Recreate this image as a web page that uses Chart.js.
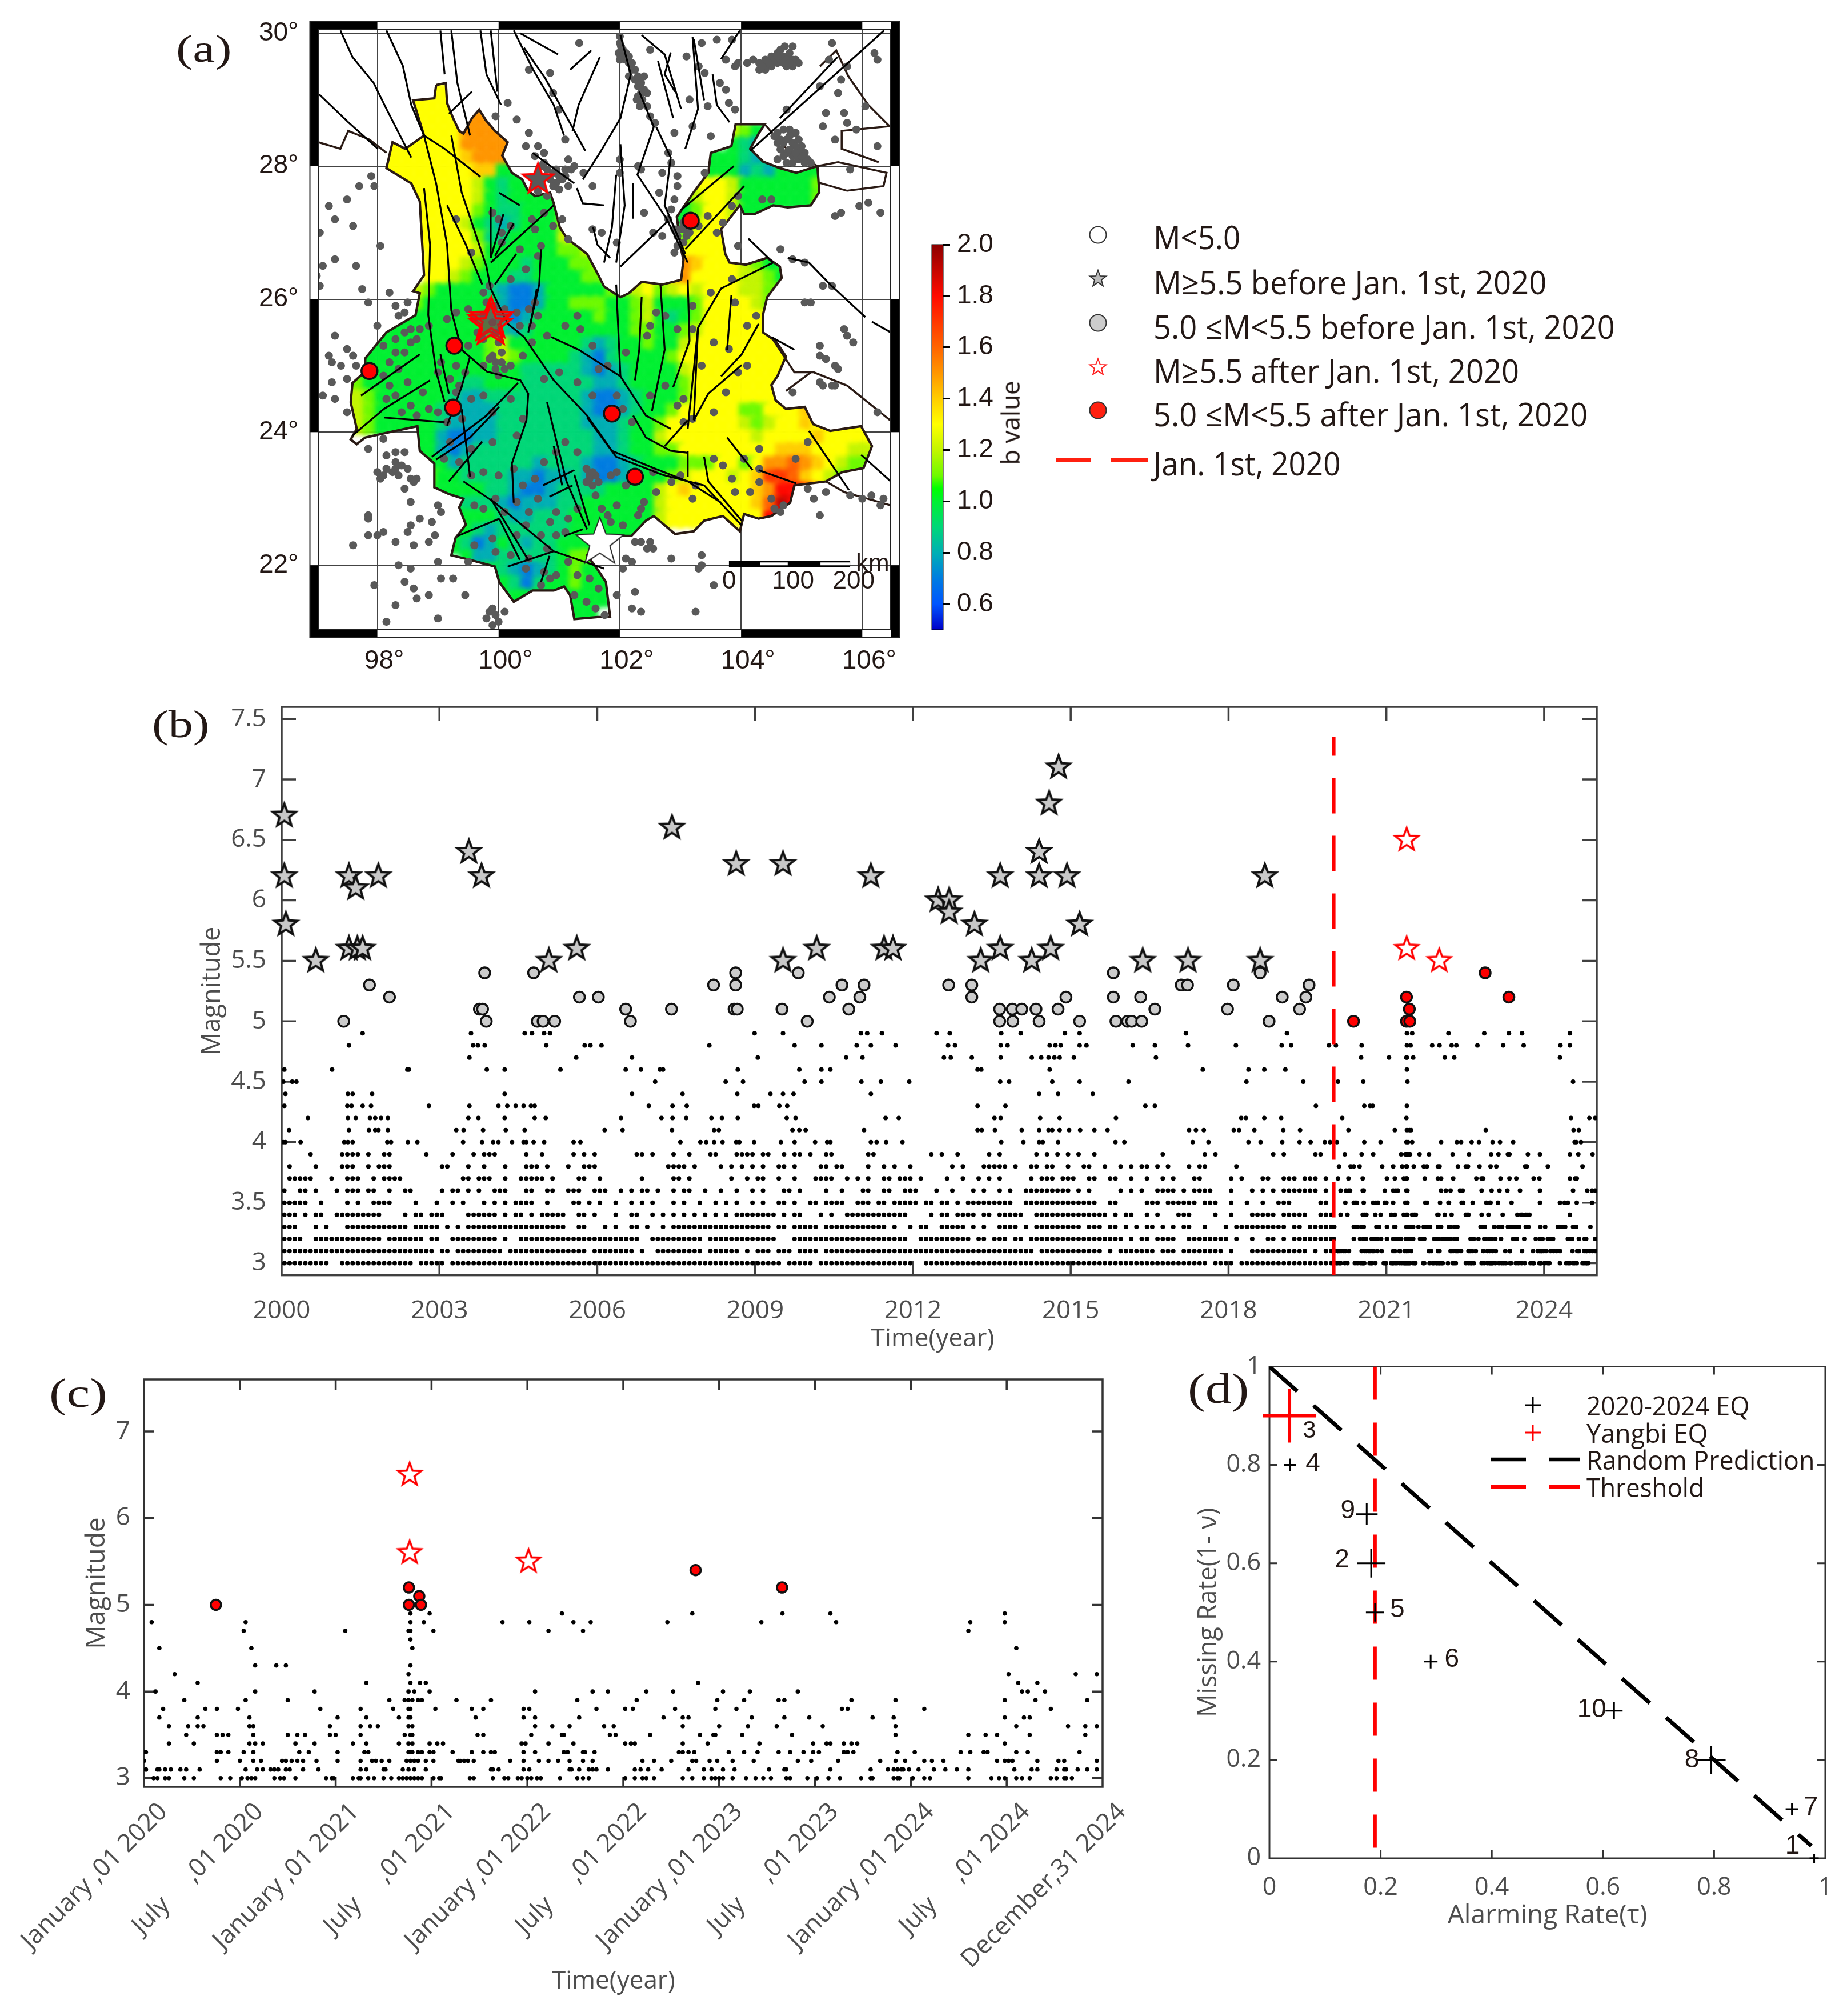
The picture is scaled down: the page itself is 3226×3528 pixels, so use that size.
<!DOCTYPE html>
<html>
<head>
<meta charset="utf-8">
<title>b value map and seismicity</title>
<script src="https://cdn.jsdelivr.net/npm/chart.js@4"></script>
<style>
  html, body { margin: 0; padding: 0; background: #fff; }
  #page { position: relative; width: 3226px; height: 3528px; overflow: hidden; }
  canvas { position: absolute; }
  .txt { position: absolute; white-space: pre; line-height: 1; transform-origin: left center; }
</style>
</head>
<body>
<div id="page"></div>
<script>
'use strict';

/* ---------- panel (b) and (c): catalogue ---------- */

// M 3.0 - 3.9 before 2020: one char per 0.1 yr, 2000.0 -> 2019.9
const bins30 = '#########. .######### #####.#### #.######## ########## ########## ########## ########## ########## #####.#### #.######## ########## ..######## ########## ########## ########## ########## ######.### #.######## ##########';
const bins31 = '########## ########## #########. ##.####### ##.####### ########.# #######.#. .######### .######.#. ###.###.## ##.####### ########## ########## ########## ###.###### ######.#.# ######.### .########. #...###### #####.#.##';
const bins32 = '####..#### #########. #######.## ..######## #.#..##### ########## ########.. ########## .######### ####...### ########## #########. .######### #.##.###.# #.######## ########## .#.##.#### ..######## .#..#..##. #.########';
const bins33 = '###...#.#. ..######## ####.##### .#.#.##### ########## ####..##.. .#.#..##.# ..#.###### ########## ###.##.### ##.####### #####.#..# .##..##### .#.#..#### .#.####### ##.###.##. #.#.##.#.# .##..#...# .######### #.##.#####';
const bins34 = '###.#.##.. #########. ...#.##.## #....##### #.#.##.#.# ####..##.# ...#..##.. #.#.#.#.#. #.#.#.#### ####.#.##. ..#.#..### #########. ...#.##.## ##.##.#### #..####### #######.#. ##..#.#... ###....#.. #...#####. #####..###';
const bins35 = '#####..#.. ..#.#..### #....#...# ..#.#...#. #.#.####.. #....##.#. #..#..#.#. #...#.#..# ..#.#.#..# .#..##.#.. ##.####..# ##.##.#### #.##.##.#. #########. .######### #####..##. ....###.## ####.###.. #..#..#..# ##.....##.';
const bins36 = '#..##.#... #.###.##.. #..##..... #.##.#.#.. ###...##.. ##..###..# ##..#.#.## .#..#.##.. #..#..#..# .#...##.#. ...#..#... ##..##..## #...#..#.. .#.#..#.#. .######### .#.#.....# .#.#..#### .#.####... #...#.#.#. #######.#.';
const bins37 = '.#####...# ..###..#.# ###....... ....##.### ..#..##### .#....##.. #.......#. ....##.#.. .....#..#. ##..#..#.. .####..#.# .#..##.### .#....#..# ..#.#.#... ..#.###.## #..##..##. .#..#..#.# ...##..... #.#...##.. ###.###.#.';
const bins38 = '.#....#... .###..#.## #......... ##...#..#. ..#...###. #...#..### .......... ...####.#. ...#.#.#.# .#..##.#.. ..##.##... .#..#.#..# .......#.# ...#####.# ..##.##..# ..##..#..# .#.##.#.#. ..#.##.... .#........ ..........';
const bins39 = '.....#.... .####.#..# #......#.. ..#...#.## #.....#..# .....#.#.# .......##. #...#..#.. .##...#### .##..#.##. #..##..... .##....... ...#.#..#. ....#.#... ...#.#.#.# .#..#..... .......#.. .....#.#.. ........#. #.....##..';

// M 4.0 - 4.9 before 2020, decimal years
const past40 = [2000.03,2000.07,2000.36,2001.19,2001.26,2001.35,2002.01,2002.08,2002.4,2002.58,2003.45,2003.81,2004.02,2004.12,2004.38,2004.6,2004.65,2004.79,2004.99,2005.55,2005.68,2007.58,2007.96,2008.07,2008.22,2008.38,2008.64,2008.7,2008.98,2009.49,2009.75,2010.14,2010.37,2010.43,2011.2,2011.31,2011.49,2011.8,2013.68,2014.1,2014.4,2014.47,2014.76,2015.85,2016.02,2017.32,2017.62,2018.38,2018.61,2019.02,2019.35,2019.56,2019.83,2019.93];
const past41 = [2000.14,2001.28,2001.66,2001.78,2001.84,2002.02,2003.32,2003.46,2003.83,2004.26,2004.62,2006.14,2006.48,2007.42,2008.22,2008.31,2009.71,2009.84,2009.96,2011.07,2013.23,2013.31,2013.56,2014.07,2014.4,2014.58,2014.65,2014.79,2014.97,2015.18,2015.45,2015.7,2017.25,2017.38,2017.53,2018.1,2018.2,2018.49,2019.04,2019.36];
const past42 = [2000.5,2001.26,2001.41,2001.68,2001.78,2001.89,2002.02,2003.55,2003.74,2004.24,2004.81,2005.02,2006.45,2007.22,2007.43,2007.69,2008.17,2008.37,2008.67,2009.6,2009.77,2011.48,2011.73,2013.55,2013.67,2014.42,2014.79,2015.86,2018.24,2018.33,2018.68,2019.0];
const past43 = [2000.05,2001.25,2001.33,2001.54,2001.7,2002.8,2003.57,2004.12,2004.29,2004.45,2004.6,2004.74,2004.81,2006.98,2007.43,2007.7,2008.98,2009.06,2009.46,2009.61,2013.23,2013.76,2016.42,2016.6,2019.66];
const past44 = [2000.07,2001.26,2001.35,2001.72,2004.24,2006.66,2007.62,2008.66,2009.29,2009.53,2009.73,2011.2,2014.4,2014.76,2015.42];
const past45 = [2000.03,2000.2,2000.28,2007.1,2008.44,2008.77,2009.94,2010.26,2011.02,2011.39,2011.93,2013.66,2013.83,2014.65,2015.17,2016.1,2018.34,2019.42];
const past46 = [2000.05,2000.96,2002.39,2002.42,2003.9,2004.24,2005.3,2006.54,2006.83,2007.19,2007.25,2008.67,2009.84,2010.26,2010.43,2013.23,2013.3,2014.6,2017.51,2018.38,2018.68,2019.08];
const past47 = [2003.57,2005.6,2006.66,2009.05,2010.73,2011.04,2012.59,2012.72,2013.12,2013.67,2014.26,2014.44,2014.58,2014.69,2014.79,2015.06,2016.62];
const past48 = [2001.28,2003.64,2003.73,2003.86,2005.03,2005.76,2005.87,2006.08,2008.13,2009.75,2010.26,2010.93,2011.2,2011.67,2012.67,2012.8,2013.67,2013.8,2014.6,2014.71,2014.81,2015.17,2015.3,2016.18,2016.6,2017.23,2018.14,2019.01,2019.19,2019.91];
const past49 = [2001.54,2003.6,2004.62,2004.76,2004.99,2005.1,2008.99,2009.53,2011.01,2011.13,2011.41,2012.45,2012.7,2013.68,2014.05,2014.89,2015.17,2017.19,2019.11];

// M 3.0 - 4.9 from 2020 on, used by both (b) and (c)
const recent30 = [2020.05,2020.07,2020.11,2020.13,2020.21,2020.26,2020.4,2020.45,2020.51,2020.54,2020.56,2020.58,2020.68,2020.71,2020.73,2020.79,2020.95,2020.98,2020.99,2021.09,2021.12,2021.13,2021.17,2021.2,2021.25,2021.29,2021.33,2021.35,2021.37,2021.39,2021.41,2021.43,2021.45,2021.51,2021.54,2021.55,2021.7,2021.72,2021.82,2021.88,2021.9,2021.95,2021.97,2022.0,2022.02,2022.05,2022.07,2022.17,2022.26,2022.29,2022.32,2022.51,2022.56,2022.6,2022.62,2022.66,2022.81,2022.86,2022.92,2022.96,2022.98,2023.0,2023.02,2023.07,2023.14,2023.19,2023.23,2023.27,2023.35,2023.37,2023.46,2023.51,2023.57,2023.63,2023.74,2023.79,2023.8,2023.91,2023.93,2023.94,2024.01,2024.07,2024.1,2024.3,2024.42,2024.46,2024.49,2024.55,2024.58,2024.62,2024.73,2024.76,2024.8,2024.81,2024.84];
const recent31 = [2020.01,2020.01,2020.07,2020.08,2020.11,2020.14,2020.19,2020.22,2020.29,2020.53,2020.59,2020.62,2020.66,2020.68,2020.7,2020.74,2020.76,2020.83,2020.91,2021.13,2021.16,2021.25,2021.26,2021.35,2021.38,2021.41,2021.47,2021.81,2021.82,2021.85,2021.98,2022.01,2022.22,2022.23,2022.27,2022.32,2022.34,2022.36,2022.42,2022.56,2022.59,2022.63,2022.7,2022.84,2022.92,2022.96,2023.02,2023.08,2023.26,2023.34,2023.35,2023.58,2023.79,2023.88,2023.91,2023.93,2023.95,2023.96,2023.99,2024.04,2024.12,2024.18,2024.24,2024.3,2024.54,2024.63,2024.66,2024.76,2024.8,2024.81,2024.87,2024.92,2024.97];
const recent32 = [2020.0,2020.38,2020.5,2020.57,2020.61,2020.72,2020.74,2020.77,2020.8,2020.83,2020.9,2021.01,2021.13,2021.19,2021.21,2021.24,2021.28,2021.37,2021.39,2021.41,2021.43,2021.47,2021.51,2021.64,2021.65,2021.67,2021.69,2021.72,2021.91,2021.98,2022.06,2022.11,2022.16,2022.22,2022.29,2022.34,2022.6,2022.66,2022.75,2022.86,2022.88,2022.95,2022.99,2023.07,2023.18,2023.41,2023.48,2023.62,2023.84,2023.92,2023.97,2024.07,2024.11,2024.17,2024.45,2024.49,2024.51,2024.53,2024.66,2024.77,2024.8,2024.97];
const recent33 = [2020.0,2020.01,2020.38,2020.4,2020.44,2020.52,2020.57,2020.81,2020.86,2021.01,2021.15,2021.17,2021.38,2021.39,2021.4,2021.43,2021.45,2021.49,2021.51,2021.61,2021.71,2021.77,2021.81,2021.83,2021.98,2022.04,2022.19,2022.21,2022.29,2022.3,2022.35,2022.79,2022.81,2022.84,2022.87,2023.05,2023.13,2023.2,2023.31,2023.37,2023.44,2023.49,2023.52,2023.65,2023.67,2023.7,2023.93,2024.02,2024.26,2024.31,2024.38,2024.4,2024.55,2024.61,2024.88];
const recent34 = [2020.13,2020.26,2020.55,2020.58,2020.62,2020.79,2020.89,2021.09,2021.16,2021.33,2021.38,2021.4,2021.49,2021.53,2021.56,2021.97,2021.99,2022.11,2022.24,2022.51,2022.54,2022.56,2022.81,2022.94,2023.21,2023.49,2023.56,2023.58,2023.65,2023.69,2023.72,2024.49];
const recent35 = [2020.22,2020.38,2020.41,2020.44,2020.57,2020.75,2020.8,2020.84,2020.97,2021.0,2021.13,2021.36,2021.39,2021.4,2021.74,2021.77,2022.02,2022.18,2022.19,2022.43,2022.46,2022.64,2022.9,2022.97,2022.98,2023.12,2023.38,2023.92,2024.3,2024.39,2024.45,2024.62,2024.91];
const recent36 = [2020.13,2020.23,2020.28,2020.31,2020.55,2020.57,2020.97,2021.13,2021.18,2021.22,2021.38,2021.4,2022.04,2022.13,2022.22,2022.4,2022.45,2022.81,2023.0,2023.15,2023.3,2023.54,2023.92,2024.55,2024.82,2024.91,2024.97];
const recent37 = [2020.08,2020.28,2020.55,2021.01,2021.16,2021.33,2021.38,2021.39,2021.73,2021.98,2022.04,2022.27,2022.71,2022.81,2022.84,2023.17,2023.34,2023.47,2023.8,2023.91,2024.49,2024.59,2024.62];
const recent38 = [2020.1,2020.32,2020.38,2020.49,2020.92,2021.13,2021.3,2021.38,2021.39,2021.52,2021.71,2021.77,2021.98,2022.01,2022.36,2022.51,2022.55,2022.77,2022.98,2023.09,2023.64,2023.67,2024.07,2024.73];
const recent39 = [2020.21,2020.53,2020.75,2021.28,2021.36,2021.38,2021.4,2021.43,2021.45,2021.63,2021.81,2022.26,2022.57,2022.99,2023.13,2023.31,2023.34,2023.69,2023.92,2024.49,2024.65,2024.92];
const recent40 = [2020.06,2020.58,2020.89,2021.38,2021.41,2021.49,2022.04,2022.34,2022.42,2022.62,2022.76,2023.02,2023.16,2023.41,2024.58,2024.61,2024.7];
const recent41 = [2020.28,2021.16,2021.39,2021.44,2021.47,2022.89,2024.56,2024.66];
const recent42 = [2020.16,2021.38,2024.51,2024.86,2024.97];
const recent43 = [2020.58,2020.69,2020.74,2021.39];
const recent44 = [];
const recent45 = [2020.08,2020.56,2021.4,2024.55];
const recent46 = [2021.39];
const recent47 = [2020.52,2021.05,2021.38,2021.39,2021.51,2022.11,2022.29,2024.3];
const recent48 = [2020.04,2020.53,2021.39,2021.46,2021.87,2022.01,2022.24,2022.33,2022.73,2023.22,2023.61,2024.31,2024.49];
const recent49 = [2021.39,2021.49,2022.18,2022.86,2023.33,2023.58,2024.49];

// M >= 5: years and magnitudes
const grayStarYears = [2000.05,2000.05,2000.08,2000.65,2001.28,2001.28,2001.41,2001.44,2001.54,2001.84,2003.56,2003.8,2005.08,2005.61,2007.42,2008.64,2009.53,2009.53,2010.17,2011.2,2011.45,2011.62,2012.48,2012.69,2012.69,2013.17,2013.29,2013.66,2013.66,2014.26,2014.4,2014.4,2014.62,2014.59,2014.77,2014.93,2015.17,2016.37,2017.23,2018.6,2018.69];
const grayStarMags  = [6.7,6.2,5.8,5.5,6.2,5.6,6.1,5.6,5.6,6.2,6.4,6.2,5.5,5.6,6.6,6.3,6.3,5.5,5.6,6.2,5.6,5.6,6.0,6.0,5.9,5.8,5.5,5.6,6.2,5.5,6.4,6.2,5.6,6.8,7.1,6.2,5.8,5.5,5.5,5.5,6.2];
const grayCircleYears = [2001.18,2001.67,2002.05,2003.86,2003.76,2003.82,2003.89,2004.79,2004.86,2004.97,2005.19,2005.66,2006.02,2006.54,2006.63,2007.41,2008.21,2008.63,2008.63,2008.6,2008.66,2009.51,2009.82,2009.99,2010.41,2010.65,2010.78,2010.99,2011.07,2012.68,2013.12,2013.12,2013.65,2013.65,2013.89,2013.9,2014.07,2014.34,2014.4,2014.76,2014.91,2015.17,2015.81,2015.81,2015.86,2016.08,2016.16,2016.35,2016.33,2016.6,2017.1,2017.22,2017.98,2018.09,2018.6,2018.77,2019.02,2019.35,2019.47,2019.53];
const grayCircleMags  = [5.0,5.3,5.2,5.4,5.1,5.1,5.0,5.4,5.0,5.0,5.0,5.2,5.2,5.1,5.0,5.1,5.3,5.4,5.3,5.1,5.1,5.1,5.4,5.0,5.2,5.3,5.1,5.2,5.3,5.3,5.3,5.2,5.1,5.0,5.1,5.0,5.1,5.1,5.0,5.1,5.2,5.0,5.4,5.2,5.0,5.0,5.0,5.0,5.2,5.1,5.3,5.3,5.1,5.3,5.4,5.0,5.2,5.1,5.2,5.3];
const redCircleYears = [2020.375,2021.382,2021.382,2021.436,2021.445,2022.877,2023.328];
const redCircleMags  = [5.0,5.2,5.0,5.1,5.0,5.4,5.2];
const redStarYears = [2021.386,2021.386,2022.006];
const redStarMags  = [6.5,5.6,5.5];

const bYearTicks = [2000,2003,2006,2009,2012,2015,2018,2021,2024];
const bMagTicks  = [3,3.5,4,4.5,5,5.5,6,6.5,7,7.5];
const cYearTicks = [2020,2020.5,2021,2021.5,2022,2022.5,2023,2023.5,2024,2024.5,2025];
const cYearLabels = ['January ,01 2020','July     ,01 2020','January ,01 2021','July     ,01 2021','January ,01 2022','July     ,01 2022','January ,01 2023','July     ,01 2023','January ,01 2024','July     ,01 2024','December,31 2024'];
const cMagTicks  = [3,4,5,6,7];

/* ---------- panel (d) ---------- */
const rocNames = ['1','2','3','4','5','6','7','8','9','10'];
const rocAlarm = [0.98,0.183,0.036,0.037,0.19,0.29,0.94,0.795,0.175,0.62];
const rocMiss  = [0,0.6,0.9,0.8,0.5,0.4,0.1,0.2,0.7,0.3];
const rocTicks = [0,0.2,0.4,0.6,0.8,1];

/* ---------- panel (a): map ---------- */
const lonTicks = [98,100,102,104,106];
const latTicks = [22,24,26,28,30];
const barTicks = [0.6,0.8,1.0,1.2,1.4,1.6,1.8,2.0];

const heatLons = [97.5,97.7,97.9,98.1,98.3,98.5,98.7,98.9,99.1,99.3,99.5,99.7,99.9,100.1,100.3,100.5,100.7,100.9,101.1,101.3,101.5,101.7,101.9,102.1,102.3,102.5,102.7,102.9,103.1,103.3,103.5,103.7,103.9,104.1,104.3,104.5,104.7,104.9,105.1,105.3,105.5,105.7,105.9,106.1];
const heatLats = [29.1,28.9,28.7,28.5,28.3,28.1,27.9,27.7,27.5,27.3,27.1,26.9,26.7,26.5,26.3,26.1,25.9,25.7,25.5,25.3,25.1,24.9,24.7,24.5,24.3,24.1,23.9,23.7,23.5,23.3,23.1,22.9,22.7,22.5,22.3,22.1,21.9,21.7,21.5,21.3];
// b value x 10 in base 36 (a = 1.0, d = 1.3, i = 1.8), one string per latitude
const heatRows = [
  '.......dd...................................',
  '......ddd...................................',
  '......ddddff................................',
  '......ddddfff...................cba.........',
  '...dddddddffff..................a98.........',
  '...dddddddefff................aaa989aaaaadd.',
  '...ddddddddeeaaaaa............aaa898aaaacdd.',
  '....dddddddca9aaaa..........cdddcaaaaaabcdd.',
  '.....ddddddca9aaaaa........aacddcaaaaaab....',
  '......dddddba99aaab........aabddcaaa........',
  '......ddddca989aaac.........acddc...........',
  '......dddddb99aaaacd........bddd............',
  '.......ddddcaaaaaabbc.......dddddcbaa.......',
  '.......dddcbaaa9aaabbc.....efedddcbaa.......',
  '.......ddcbaaa99aaaabbc.dddefddddccba.......',
  '....aacbaaaa98778aaaaabbcdbcdcdddccbb.......',
  '....aabaaaaaa8778aabbbaabcaaabddddcb........',
  '...aaaaaaaaa9878aaaaabaabca9abdddddd........',
  '..aaaaaaaaaaa989aaaaaaaabbaabcddddddd.......',
  '.aaaaaaaaaaabcaaaaaa989aabaacdddddddd.......',
  '.aaaaaaaaaaabcbaaaa9879aaaabddddddddddd.....',
  'aaaaaaaaaaaaaaa999998789aaaacdddddddd.......',
  'bbaaaaaaaa99aaa999999889aaaabddddddd........',
  'ccbaaaaaa9889999999987789aaabddddddd........',
  'ccbaaaaa98888999999987789aabdddddbbdddedc...',
  '.cbaaaaa9888899999998889aabddddddcbcddedddd.',
  '.....aaa8778899999999889aacdddddddcddddedddd',
  '......aa8789999999999889aabbddddddddeeedddcc',
  '.......aa8999999899987789aaabbbddbdffgfedcbb',
  '.......baa999988788987789aabcdddcdehhgedcbbb',
  '........aaaa9987789999aaaacdedddddefiihebbbb',
  '.........a9998788899aaaaaacdddddddegjie.....',
  '.........aaaa988999aaaaaaacddddddddi........',
  '.........aa98999999aaaaaa...................',
  '.........a978a9899aaaa......................',
  '..........a8899999abba......................',
  '...........aa98789abaa......................',
  '.............a979aabaa......................',
  '..............aaa.aaaa......................',
  '..................aaa.......................'
];

// Yunnan border, lon/lat pairs
const yunnanBorder = [98.97,29.22,99.13,29.25,99.15,28.95,99.25,28.72,99.35,28.53,99.42,28.49,99.56,28.72,99.68,28.85,99.79,28.69,99.94,28.53,100.15,28.36,100.06,28.16,100.22,27.9,100.39,27.8,100.48,27.64,100.6,27.55,100.85,27.6,100.91,27.44,101.01,27.08,101.13,26.91,101.32,26.78,101.46,26.68,101.63,26.39,101.74,26.19,102.01,26.03,102.15,26.09,102.36,26.26,102.7,26.22,103.01,26.29,103.05,26.59,103.01,26.75,102.94,27.24,103.22,27.61,103.46,27.9,103.5,28.2,103.84,28.3,103.91,28.63,104.39,28.63,104.29,28.49,104.15,28.26,104.36,28.07,104.64,27.97,104.91,27.9,105.26,28.0,105.29,27.61,105.15,27.41,104.77,27.38,104.53,27.41,104.22,27.28,104.05,27.28,103.98,27.41,103.67,27.05,103.74,26.68,103.81,26.55,104.08,26.52,104.43,26.62,104.64,26.49,104.67,26.32,104.43,26.03,104.36,25.76,104.36,25.5,104.57,25.37,104.74,25.14,104.6,24.84,104.5,24.71,104.57,24.48,104.74,24.35,105.05,24.38,105.19,24.12,105.47,24.02,105.98,24.09,106.16,23.79,106.02,23.46,105.67,23.4,105.4,23.26,104.88,23.2,104.81,22.94,104.5,22.74,104.29,22.7,104.05,22.77,103.98,22.51,103.7,22.74,103.39,22.67,103.22,22.51,102.91,22.47,102.56,22.74,102.43,22.67,102.19,22.44,101.94,22.44,101.67,22.34,101.46,22.15,101.6,21.98,101.77,21.75,101.84,21.22,101.63,21.22,101.25,21.19,101.18,21.55,101.08,21.68,100.91,21.62,100.56,21.62,100.25,21.45,100.01,21.75,99.94,21.98,99.53,22.08,99.22,22.15,99.29,22.41,99.46,22.61,99.35,22.87,99.42,23.0,99.18,23.07,98.94,23.17,98.94,23.53,98.7,23.72,98.66,24.09,98.15,23.99,97.8,23.92,97.66,23.82,97.56,23.89,97.66,24.05,97.56,24.45,97.59,24.74,97.8,24.91,97.8,25.11,98.15,25.5,98.63,25.76,98.7,26.09,98.59,26.12,98.77,26.36,98.7,27.47,98.56,27.74,98.15,27.97,98.25,28.36,98.46,28.26,98.77,28.46,98.59,28.99,98.94,29.02,98.97,29.22];
const outerBorders = [
  [96.95,28.38,97.39,28.26,97.52,28.53,97.87,28.4,98.15,28.2],
  [104.39,28.63,104.7,28.3,105.26,28.0,105.6,28.06,106.4,27.9,106.35,27.7,105.75,27.63,105.29,27.75],
  [105.3,29.5,105.57,29.74,105.77,29.35,106.1,28.92,106.45,28.6,105.66,28.53,105.66,28.26,106.27,28.06],
  [104.5,25.43,104.88,24.9,105.2,24.9,105.75,24.7,106.5,24.15],
  [104.74,24.62,105.15,24.9],
  [105.4,23.26,105.7,23.1,106.47,22.9]
];
const faultLines = [
  [97.39,30.04,97.59,29.64,97.94,29.25,98.15,28.86,98.56,28.13],
  [97.04,29.08,97.52,28.66,98.01,28.26],
  [98.15,30.04,98.42,29.51,98.56,28.92,98.77,28.46,99.11,28.26,99.7,27.84],
  [98.77,27.67,98.87,26.82,98.84,25.76,98.97,24.91,99.11,24.45],
  [98.77,28.46,98.97,27.74,99.15,26.82,99.22,25.83,99.39,25.24,99.81,24.91,100.36,24.78,100.49,24.58,100.46,24.18,100.22,23.53,100.25,22.94],
  [99.22,28.46,99.39,27.61,99.8,26.49,99.87,26.16,100.15,25.63,100.42,25.43,100.91,24.78,101.46,24.25,101.87,23.72,102.56,23.46,103.12,23.26,103.67,22.94],
  [101.46,24.22,101.94,23.63,102.7,23.36,103.39,23.2,104.01,22.6],
  [99.15,27.41,99.46,26.82,99.73,26.22],
  [99.04,30.04,99.11,29.38],
  [99.22,30.04,99.32,29.25,99.53,28.46],
  [99.7,30.04,99.8,29.38,100.04,28.92],
  [99.87,30.04,99.98,29.12],
  [99.18,28.79,99.56,29.12],
  [100.25,30.04,100.57,29.45,100.91,28.92,101.08,28.46],
  [100.42,29.78,100.77,29.32,101.25,28.53,101.43,28.23],
  [100.35,30.0,100.98,29.68],
  [101.18,29.45,101.53,29.74],
  [101.67,29.64,101.32,28.92,101.22,28.53],
  [100.56,28.2,101.25,27.74],
  [102.01,29.97,102.18,29.38,102.01,28.72,101.67,28.2,101.39,27.8],
  [102.36,29.97,102.74,29.68,103.01,28.86],
  [102.01,28.33,102.08,27.41,101.94,26.55],
  [102.32,29.12,102.56,28.59,102.29,27.87,102.77,27.21,103.12,26.55],
  [103.2,29.94,103.29,28.86,103.08,28.26],
  [103.53,29.38,103.6,28.92,103.81,28.66],
  [103.98,30.04,103.67,29.61],
  [106.36,30.04,104.15,28.23],
  [105.59,29.64,104.64,28.72],
  [104.05,27.7,103.08,26.75],
  [103.88,28.0,103.01,27.34],
  [100.91,27.41,99.87,26.55],
  [100.01,27.6,100.35,27.41],
  [100.7,26.75,100.67,26.22,100.49,25.5],
  [104.53,26.55,103.67,26.16,103.29,25.57,103.22,24.18],
  [104.29,25.63,104.01,25.17,103.67,24.84],
  [104.01,25.01,103.46,24.58,103.22,24.18],
  [104.12,26.91,104.53,26.55],
  [104.77,26.62,105.12,26.55,105.47,26.22,106.05,25.73],
  [106.16,25.66,106.47,25.5],
  [104.5,25.43,104.88,25.24],
  [102.36,26.03,102.32,25.24,102.25,24.78],
  [102.67,26.22,102.74,25.24,102.53,24.32],
  [101.94,26.22,102.01,24.84],
  [103.12,26.29,103.15,25.37,102.88,24.68],
  [103.29,25.57,103.12,24.05],
  [103.84,26.06,103.77,25.24],
  [100.87,25.43,101.32,25.24,102.01,24.84,102.43,24.25,102.84,24.05],
  [102.22,24.25,102.43,23.92,102.84,23.72,103.12,23.69],
  [102.74,23.79,103.12,24.18],
  [103.12,23.72,103.12,23.33],
  [103.39,23.63,103.46,23.26,104.01,22.67],
  [103.77,23.92,104.19,23.43],
  [104.29,23.43,104.91,23.23],
  [105.12,24.02,105.78,23.13],
  [105.98,23.66,106.47,23.26],
  [100.8,24.45,100.94,23.92,101.12,23.26,101.46,22.54],
  [100.91,23.79,101.05,23.2],
  [101.25,23.36,101.5,22.6],
  [100.73,23.2,101.25,23.43],
  [100.84,23.03,101.22,23.2],
  [101.08,22.44,101.39,22.54],
  [99.42,23.26,99.94,22.94,100.91,22.21,101.74,21.95],
  [99.87,23.0,100.49,22.08],
  [100.01,22.7,99.32,22.44],
  [100.15,21.98,100.91,22.21],
  [100.84,22.14,100.7,21.75],
  [100.01,22.7,100.35,22.08],
  [100.32,24.74,99.8,24.25,98.9,23.63],
  [100.01,24.38,99.53,23.92,98.97,23.59],
  [99.73,23.86,99.18,23.26],
  [98.7,25.17,97.73,24.55],
  [98.87,24.78,98.11,24.35,97.59,23.95],
  [99.53,25.14,99.39,24.68,99.15,24.1],
  [99.04,25.17,99.18,24.58],
  [98.11,24.22,99.11,24.15],
  [99.39,24.35,99.46,23.85,99.53,23.33],
  [103.22,29.91,103.39,28.99],
  [102.84,29.71,102.74,29.38,102.91,29.12],
  [102.63,29.58,102.88,28.72],
  [102.6,28.59,102.84,28.13,102.74,27.41,103.08,26.68],
  [102.22,27.74,102.22,27.21],
  [101.94,27.87,101.87,27.08,101.74,26.55],
  [101.56,27.08,101.63,26.82,101.84,26.62],
  [101.29,27.67,101.39,27.44,101.74,27.41],
  [102.8,27.18,102.01,26.49],
  [99.87,27.38,99.87,26.62],
  [100.08,27.28,99.87,26.62],
  [100.25,27.14,99.94,26.65],
  [100.29,26.68,99.94,26.22],
  [100.63,26.16,100.53,25.63]
];
// events outside the legend classes on the map, lon/lat pairs
const mapDots = [102.0,29.95,102.02,29.8,101.98,29.7,102.05,29.65,102.1,29.6,102.0,29.6,102.15,29.55,102.2,29.45,102.25,29.3,102.3,29.2,102.3,29.05,102.37,29.0,102.33,28.9,102.4,29.35,102.45,29.1,102.15,29.35,101.33,29.85,102.5,29.75,102.45,28.9,102.5,28.75,102.58,28.65,102.9,28.5,102.8,28.2,102.85,28.05,102.95,27.85,102.95,27.7,103.15,29.0,103.2,28.6,103.45,28.9,103.5,28.45,103.65,29.25,103.75,29.15,103.8,28.95,103.9,28.85,103.85,29.9,103.6,29.9,103.35,29.85,103.3,29.5,103.1,29.65,
104.1,29.55,104.2,29.6,104.3,29.55,104.4,29.6,104.5,29.65,104.6,29.7,104.7,29.65,104.8,29.7,104.9,29.6,104.95,29.55,104.85,29.5,104.75,29.5,104.6,29.55,104.5,29.5,104.4,29.45,104.65,29.75,104.72,29.8,104.3,29.45,103.9,29.5,104.85,29.8,103.4,29.4,
104.6,28.5,104.7,28.55,104.8,28.55,104.9,28.5,104.95,28.4,105.0,28.3,105.05,28.2,105.1,28.1,104.95,28.1,104.85,28.15,104.75,28.2,104.65,28.25,104.6,28.35,104.7,28.35,104.85,28.35,104.8,28.45,104.95,28.25,104.75,28.05,104.6,28.1,105.15,28.05,
105.45,29.6,105.3,29.2,105.6,29.1,105.75,29.5,105.65,29.3,105.7,28.8,105.4,28.8,105.55,28.4,105.75,28.65,105.9,28.55,106.2,29.7,106.25,29.6,105.5,29.85,104.75,28.85,105.35,28.6,106.05,28.9,106.25,28.3,105.8,27.95,105.95,27.4,106.1,27.45,106.3,27.3,105.55,27.25,105.65,27.3,
104.65,26.75,104.85,26.6,105.05,26.55,105.35,26.2,105.5,26.2,105.05,25.95,105.15,25.95,105.7,25.55,105.75,25.45,105.85,25.35,105.3,25.15,105.4,25.1,105.55,25.0,105.6,24.95,106.25,24.3,105.5,24.7,105.55,24.7,105.35,24.7,104.85,24.6,105.3,25.3,106.0,23.0,106.15,23.05,106.3,22.9,106.35,23.0,105.1,23.15,105.2,23.0,105.4,23.1,105.8,23.05,105.3,22.75,105.3,24.75,
101.1,28.4,101.0,28.85,100.9,29.1,100.85,29.4,100.5,29.45,100.15,28.95,99.95,28.75,100.3,28.7,100.5,28.5,100.45,28.3,100.65,28.3,100.6,28.15,100.75,28.2,100.75,28.05,101.15,28.1,101.2,27.95,101.05,27.8,101.15,27.7,101.1,27.85,100.95,27.75,101.0,27.65,100.9,27.7,100.65,27.62,100.8,27.55,100.75,27.3,101.05,27.2,100.9,27.1,101.15,26.9,
101.25,28.0,101.4,27.9,101.55,27.7,102.0,27.9,102.0,28.1,102.3,28.0,102.35,27.95,101.55,27.05,101.7,27.0,101.95,26.85,102.4,27.3,102.55,27.0,102.7,26.95,102.8,27.2,102.85,27.35,102.9,27.5,102.65,27.6,102.7,27.9,103.05,27.15,103.05,27.05,102.95,26.95,102.95,26.8,102.9,26.7,103.15,27.0,103.3,27.1,103.45,27.25,103.6,27.0,103.7,27.15,103.85,27.4,103.95,27.55,103.4,27.9,104.35,27.5,104.5,27.5,103.95,26.8,
97.7,27.7,97.9,27.85,97.95,27.7,97.5,27.5,97.2,27.4,97.3,27.2,97.05,27.0,97.6,27.1,97.3,26.6,97.1,26.5,97.65,26.5,97.0,26.35,97.05,26.2,98.05,26.8,97.75,26.15,98.2,26.1,98.5,25.95,98.55,25.55,98.3,25.9,98.35,25.75,98.45,25.8,97.85,25.95,98.0,25.6,97.3,25.45,97.5,25.25,97.6,25.15,97.65,25.0,97.2,25.15,97.25,25.05,97.4,25.0,97.5,24.8,97.25,24.75,97.1,24.55,97.3,24.5,97.5,24.3,
99.3,27.2,99.55,26.7,99.9,27.3,100.0,27.2,100.05,27.0,100.05,26.85,100.2,27.1,100.35,26.75,100.55,27.2,100.6,27.05,100.7,26.8,100.65,26.65,100.45,26.45,100.2,26.3,99.85,26.2,99.75,26.1,99.8,25.95,99.95,25.9,100.1,25.85,100.3,25.8,100.5,25.85,100.6,25.95,100.65,25.75,100.55,25.6,100.35,25.6,99.5,25.85,99.3,25.8,99.15,25.7,98.85,25.6,98.7,25.55,98.55,25.35,98.65,25.4,98.45,25.2,98.3,25.2,98.2,25.05,98.1,24.85,98.35,24.95,98.5,24.75,98.75,24.6,98.55,24.4,98.3,24.55,98.15,24.5,98.65,24.25,98.85,24.35,99.0,24.3,99.0,24.9,99.05,25.05,99.3,25.0,99.5,25.3,99.75,25.0,99.95,24.95,100.0,24.85,100.05,25.05,99.9,25.15,100.2,25.0,100.4,25.15,100.55,25.35,100.8,25.45,101.1,25.6,101.3,25.75,101.35,25.55,101.55,25.3,101.65,24.95,101.8,25.0,102.1,25.2,101.0,24.9,100.75,24.8,101.3,24.75,101.55,24.55,101.95,24.55,102.05,24.35,102.2,24.15,102.5,24.55,102.75,24.7,102.95,24.4,103.05,24.15,103.2,24.2,103.05,24.5,103.55,24.3,103.75,24.6,103.95,24.9,104.1,25.0,103.8,25.25,103.55,25.35,103.35,25.0,103.2,25.55,102.6,25.8,102.5,25.6,102.45,25.45,102.75,25.75,102.95,25.55,103.2,25.9,103.5,26.1,103.9,25.95,104.1,25.6,104.25,25.75,103.85,26.3,
99.3,24.6,99.55,24.5,99.75,24.55,99.9,24.3,100.2,24.5,100.4,24.2,100.3,23.95,99.9,23.85,99.55,23.75,99.2,23.85,99.1,23.6,99.35,23.55,99.55,23.35,99.75,23.4,100.0,23.35,100.25,23.45,100.4,23.2,100.6,23.3,100.75,23.55,100.95,23.7,101.1,23.85,101.3,23.7,101.45,23.45,101.5,23.3,101.6,23.35,101.55,23.2,101.65,23.25,101.85,23.35,101.95,23.4,102.1,23.2,101.6,23.05,101.7,22.85,101.8,22.75,101.95,22.9,101.85,22.65,102.05,22.6,102.3,22.75,102.35,22.85,102.4,22.95,102.6,23.1,102.55,23.4,102.85,23.25,103.25,23.2,103.0,23.35,103.2,23.0,103.55,23.6,103.7,23.5,103.9,23.1,103.85,23.3,104.15,23.1,104.3,23.25,104.3,23.45,104.05,23.6,104.3,23.75,104.5,23.0,104.55,22.85,104.65,22.8,104.7,22.9,104.9,23.6,105.1,23.85,
99.6,22.9,99.75,22.85,99.95,23.0,100.1,22.8,100.3,22.95,100.5,22.8,100.65,23.0,100.85,22.65,100.95,22.8,101.1,22.5,101.15,22.7,101.3,22.85,100.3,22.45,100.45,22.6,100.7,22.45,100.8,22.25,100.95,22.45,99.6,22.3,99.9,22.4,99.95,22.2,99.5,22.05,100.2,22.15,100.45,21.95,100.5,22.1,100.75,21.9,100.95,21.85,101.15,22.05,101.3,21.85,101.5,21.8,101.65,21.65,101.25,21.55,101.45,21.45,101.6,21.35,101.75,21.25,100.7,21.7,100.85,21.8,
99.0,22.9,99.05,22.8,98.9,22.65,98.7,22.7,98.55,22.95,98.55,22.6,98.5,22.5,98.6,22.3,98.85,22.35,98.95,22.45,98.0,23.4,98.05,23.3,98.25,23.4,98.3,23.45,98.35,23.35,98.55,23.3,98.65,23.3,98.45,23.15,98.6,23.25,98.45,23.7,98.3,23.7,98.15,23.65,98.1,23.9,97.85,23.75,97.6,22.3,97.85,22.7,97.85,22.75,97.85,22.45,98.0,22.45,98.1,22.5,98.3,22.35,98.3,21.4,98.45,21.75,98.6,21.65,98.65,21.5,98.85,21.55,99.0,22.05,99.05,21.8,99.25,21.8,99.45,21.55,99.0,21.2,98.55,21.95,98.35,22.0,98.15,21.15,97.95,21.7,
99.8,21.2,99.85,21.3,99.9,21.1,99.95,21.25,100.0,21.15,99.9,21.35,100.1,21.3,
102.1,22.1,102.25,22.35,102.35,22.35,102.45,22.25,102.55,22.25,102.5,22.35,102.05,21.95,102.2,22.05,102.25,21.6,102.85,22.1,103.3,21.95,103.35,22.0,103.35,22.15,103.25,21.3,103.55,21.7,102.35,21.3,102.2,21.35,101.95,21.55,
104.65,28.4,104.75,28.4,104.9,28.3,104.8,28.25,104.7,28.15,104.85,28.05,105.0,28.15,104.55,28.45,104.9,28.2,105.05,28.05,104.55,29.6,104.65,29.6,104.75,29.6,104.85,29.6,104.7,29.55,104.8,29.55,104.6,29.65,104.45,29.55,104.35,29.5,103.95,29.55,103.75,29.6,
102.0,29.85,102.05,29.75,102.1,29.7,102.15,29.65,102.2,29.55,102.25,29.45,102.3,29.35,102.35,29.25,102.4,29.15,102.35,29.1,102.28,29.0,
100.7,28.0,100.8,27.95,100.9,27.9,101.0,27.85,101.1,27.95,100.85,27.8,100.95,27.95,101.5,23.35,101.55,23.4,101.45,23.25,
99.6,25.7,99.75,25.75,99.9,25.65,99.95,25.5,99.65,25.5,99.75,25.4,100.0,25.35,100.05,25.2,99.85,25.1,99.95,25.05,100.1,24.95,99.2,24.8,99.35,24.7,99.45,24.9,99.3,24.4,99.4,24.2,99.15,24.15,98.4,24.3,98.2,24.7,98.1,25.3,98.3,25.4,98.45,25.5,
98.3,23.55,98.4,23.5,98.5,23.45,98.15,23.45,98.1,23.35,103.1,26.95,103.05,26.85,103.0,27.05,103.1,27.1,102.9,27.05];
const mapRedCircles = [103.17,27.18,99.27,25.3,97.87,24.92,99.25,24.37,101.87,24.28,102.25,23.33];
const mapRedStars   = [100.65,27.8];
const yangbiStars   = [99.85,25.66,99.88,25.7,99.87,25.6];
const mainShock     = [101.67,22.34];
const scaleBarLon   = [103.8,105.8];
const scaleBarWhite = [104.31,104.77,105.31,105.8];
const scaleBarLat   = 22.02;

/* ---------- helpers ---------- */

const DARK = '#231815';
const GRAY = '#4d4d4d';
const SANS = '"Open Sans", "Noto Sans", sans-serif';
const NARROW = '"Liberation Sans Narrow", "Liberation Sans", sans-serif';
const page = document.getElementById('page');

Chart.defaults.animation = false;
Chart.defaults.events = [];
Chart.defaults.responsive = false;
Chart.defaults.devicePixelRatio = 1;
Chart.defaults.layout.autoPadding = false;
Chart.defaults.plugins.legend.display = false;
Chart.defaults.plugins.tooltip.enabled = false;

function pairs(flat) {
  const out = [];
  for (let i = 0; i < flat.length; i += 2) out.push({ x: flat[i], y: flat[i + 1] });
  return out;
}

function zipPoints(xs, ys) {
  return xs.map((x, i) => ({ x, y: ys[i] }));
}

function addCanvas(l, t, w, h) {
  const c = document.createElement('canvas');
  c.width = w; c.height = h;
  c.style.left = l + 'px'; c.style.top = t + 'px';
  c.style.width = w + 'px'; c.style.height = h + 'px';
  page.appendChild(c);
  return c;
}

// text is placed by its left edge (or centre) and squeezed to the width in the figure
function addText(text, x, y, size, opt = {}) {
  const d = document.createElement('div');
  d.className = 'txt';
  d.textContent = text;
  d.style.font = (opt.font || `${size}px ${SANS}`);
  d.style.color = opt.color || DARK;
  page.appendChild(d);
  const w = d.offsetWidth, h = d.offsetHeight;
  const sx = opt.width ? opt.width / w : 1;
  d.style.left = (opt.center ? x - w * sx / 2 : x) + 'px';
  d.style.top = (y - h / 2) + 'px';
  d.style.transform = `scaleX(${sx})`;
  return d;
}

function starSprite(r, fill, stroke, lw) {
  const m = Math.ceil(r + lw + 2);
  const c = document.createElement('canvas');
  c.width = c.height = m * 2;
  const g = c.getContext('2d');
  g.beginPath();
  for (let i = 0; i < 10; i++) {
    const a = -Math.PI / 2 + i * Math.PI / 5;
    const rr = i % 2 ? r * 0.42 : r;
    g[i ? 'lineTo' : 'moveTo'](m + rr * Math.cos(a), m + rr * Math.sin(a));
  }
  g.closePath();
  g.fillStyle = fill; g.fill();
  g.lineWidth = lw; g.strokeStyle = stroke; g.lineJoin = 'miter'; g.stroke();
  return c;
}

// colour scale of the b value bar
const COLOR_STOPS = [[0.5,[0,0,200]],[0.6,[0,85,255]],[0.7,[0,125,225]],[0.8,[0,175,180]],[0.9,[0,215,120]],[1.0,[0,240,50]],[1.05,[0,255,0]],[1.1,[110,250,0]],[1.2,[195,245,0]],[1.3,[255,255,0]],[1.4,[255,205,0]],[1.5,[255,150,0]],[1.6,[255,100,0]],[1.8,[255,10,0]],[2.0,[140,0,0]]];

function bColor(b) {
  for (let i = 1; i < COLOR_STOPS.length; i++) {
    const [b1, c1] = COLOR_STOPS[i];
    if (b <= b1) {
      const [b0, c0] = COLOR_STOPS[i - 1];
      const t = (b - b0) / (b1 - b0);
      return `rgb(${c0.map((v, k) => Math.round(v + (c1[k] - v) * t)).join(',')})`;
    }
  }
  return 'rgb(140,0,0)';
}

// soft edged cell, the map in the figure is resampled and has no hard block edges
const cellCache = {};
function cellSprite(b) {
  if (!cellCache[b]) {
    const c = document.createElement('canvas');
    c.width = 54; c.height = 56;
    const g = c.getContext('2d');
    g.filter = 'blur(4px)';
    g.fillStyle = bColor(b);
    g.fillRect(12, 12, 30, 32);
    cellCache[b] = c;
  }
  return cellCache[b];
}

// fixes the chart area so the axes sit where they do in the figure
function fixedAxis(size, key) {
  return s => {
    s[key] = size;
    s.paddingLeft = s.paddingRight = s.paddingTop = s.paddingBottom = 0;
  };
}

function setTicks(values) {
  return s => { s.ticks = values.map(v => ({ value: v })); };
}

// MATLAB style box with inward ticks on all four sides
const axisBox = {
  id: 'axisBox',
  beforeDatasetsDraw(chart, args, o) {
    const { ctx, chartArea: a, scales } = chart;
    ctx.save();
    ctx.strokeStyle = o.color;
    ctx.lineWidth = o.width;
    ctx.strokeRect(a.left, a.top, a.right - a.left, a.bottom - a.top);
    ctx.beginPath();
    for (const t of scales.x.ticks) {
      const x = scales.x.getPixelForValue(t.value);
      if (x <= a.left + 1 || x >= a.right - 1) continue;
      ctx.moveTo(x, a.bottom); ctx.lineTo(x, a.bottom - o.tick);
      ctx.moveTo(x, a.top); ctx.lineTo(x, a.top + o.tick);
    }
    for (const t of scales.y.ticks) {
      const y = scales.y.getPixelForValue(t.value);
      if (y <= a.top + 1 || y >= a.bottom - 1) continue;
      ctx.moveTo(a.left, y); ctx.lineTo(a.left + o.tick, y);
      ctx.moveTo(a.right, y); ctx.lineTo(a.right - o.tick, y);
    }
    ctx.stroke();
    ctx.restore();
  }
};

/* ---------- datasets shared by (b) and (c) ---------- */

const pastBins = [bins30, bins31, bins32, bins33, bins34, bins35, bins36, bins37, bins38, bins39];
const pastUpper = [past40, past41, past42, past43, past44, past45, past46, past47, past48, past49];
const recentRows = [recent30, recent31, recent32, recent33, recent34, recent35, recent36, recent37, recent38, recent39, recent40, recent41, recent42, recent43, recent44, recent45, recent46, recent47, recent48, recent49];

const pastDots = [];
pastBins.forEach((row, k) => {
  const mag = 3 + k / 10;
  row.replace(/ /g, '').split('').forEach((ch, i) => {
    if (ch === '#') pastDots.push({ x: 2000 + (i + 0.5) / 10, y: mag });
  });
});
pastUpper.forEach((row, k) => row.forEach(x => pastDots.push({ x, y: 4 + k / 10 })));

const recentDots = [];
recentRows.forEach((row, k) => row.forEach(x => recentDots.push({ x, y: 3 + k / 10 })));

function dotSet(data, r) {
  return { data, pointRadius: r, pointBackgroundColor: '#000', pointBorderWidth: 0, showLine: false };
}
function circleSet(data, fill, r) {
  return { data, clip: false, pointRadius: r, pointBackgroundColor: fill, pointBorderColor: '#111', pointBorderWidth: 3.5, showLine: false };
}
function starSet(data, sprite) {
  return { data, clip: false, pointRadius: 1, pointStyle: sprite, showLine: false };
}

const grayStar = starSprite(21, '#c8c8c8', '#111', 4);
const redStar = starSprite(21, '#fff', '#ff0000', 3.5);

/* ---------- (b) magnitude vs time ---------- */

new Chart(addCanvas(340, 1200, 2500, 1180), {
  type: 'scatter',
  data: {
    datasets: [
      starSet(zipPoints(redStarYears, redStarMags), redStar),
      circleSet(zipPoints(redCircleYears, redCircleMags), '#ff0000', 9.5),
      starSet(zipPoints(grayStarYears, grayStarMags), grayStar),
      circleSet(zipPoints(grayCircleYears, grayCircleMags), '#cccccc', 9.5),
      { data: [{ x: 2020, y: 2.9 }, { x: 2020, y: 7.35 }], showLine: true, pointRadius: 0, borderColor: '#ff0000', borderWidth: 6, borderDash: [62, 39] },
      dotSet(pastDots.concat(recentDots), 4)
    ]
  },
  options: {
    layout: { padding: { top: 37, right: 45, left: 0, bottom: 0 } },
    plugins: { axisBox: { color: '#404040', width: 3.5, tick: 25 } },
    scales: {
      x: {
        type: 'linear', min: 2000, max: 2025,
        afterBuildTicks: setTicks(bYearTicks), afterFit: fixedAxis(148.4, 'height'),
        grid: { display: false }, border: { display: false },
        ticks: { color: GRAY, padding: 28, font: { family: SANS, size: 44 }, maxRotation: 0, autoSkip: false, callback: v => String(v) },
        title: { display: true, text: 'Time(year)  ', color: GRAY, font: { family: SANS, size: 44 }, padding: { bottom: 10, top: 0 } }
      },
      y: {
        min: 2.9, max: 7.6,
        afterBuildTicks: setTicks(bMagTicks), afterFit: fixedAxis(153, 'width'),
        grid: { display: false }, border: { display: false },
        ticks: { color: GRAY, padding: 19, font: { family: SANS, size: 44 }, autoSkip: false, callback: v => String(v) },
        title: { display: true, text: 'Magnitude', color: GRAY, font: { family: SANS, size: 45 }, padding: { top: 5, bottom: 0 } }
      }
    }
  },
  plugins: [axisBox]
});

/* ---------- (c) magnitude vs time since 2020 ---------- */

new Chart(addCanvas(0, 2395, 2060, 1133), {
  type: 'scatter',
  data: {
    datasets: [
      starSet(zipPoints(redStarYears, redStarMags), redStar),
      circleSet(zipPoints(redCircleYears, redCircleMags), '#ff0000', 9),
      dotSet(recentDots, 3.8)
    ]
  },
  options: {
    layout: { padding: { top: 19, right: 130, left: 0, bottom: 0 } },
    plugins: { axisBox: { color: '#333', width: 3.5, tick: 18 } },
    scales: {
      x: {
        type: 'linear', min: 2020, max: 2025,
        afterBuildTicks: setTicks(cYearTicks), afterFit: fixedAxis(401, 'height'),
        grid: { display: false }, border: { display: false },
        ticks: { color: GRAY, padding: 10, labelOffset: 34, font: { family: SANS, size: 44 }, minRotation: 45, maxRotation: 45, autoSkip: false, callback: (v, i) => cYearLabels[i] },
        title: { display: true, text: 'Time(year)   ', color: GRAY, font: { family: SANS, size: 44 }, padding: { bottom: 34, top: 0 } }
      },
      y: {
        min: 2.9, max: 7.6,
        afterBuildTicks: setTicks(cMagTicks), afterFit: fixedAxis(252, 'width'),
        grid: { display: false }, border: { display: false },
        ticks: { color: GRAY, padding: 16, font: { family: SANS, size: 44 }, autoSkip: false, callback: v => String(v) },
        title: { display: true, text: 'Magnitude', color: GRAY, font: { family: SANS, size: 46 }, padding: { top: 142, bottom: 0 } }
      }
    }
  },
  plugins: [axisBox]
});

/* ---------- (d) Molchan diagram ---------- */

const rocSizes = [8, 25, 47, 11, 16, 12, 11, 25, 19, 15];
const rocOffsets = [[-38, -21], [-51, -5], [35, 27], [40, -1], [39, -4], [37, -3], [33, -3], [-34, 0], [-33, -5], [-39, -2]];

const rocLabels = {
  id: 'rocLabels',
  afterDatasetsDraw(chart) {
    const { ctx, scales } = chart;
    ctx.save();
    ctx.fillStyle = DARK;
    ctx.textAlign = 'center';
    ctx.textBaseline = 'middle';
    rocNames.forEach((name, i) => {
      ctx.font = `${i === 2 ? 42 : 46}px ${NARROW}`;
      ctx.fillText(name, scales.x.getPixelForValue(rocAlarm[i]) + rocOffsets[i][0], scales.y.getPixelForValue(rocMiss[i]) + rocOffsets[i][1]);
    });
    // legend keys
    const L = 2060, T = 2370;
    const plus = (x, y, r, col, w) => {
      ctx.strokeStyle = col; ctx.lineWidth = w;
      ctx.beginPath();
      ctx.moveTo(x - L - r, y - T); ctx.lineTo(x - L + r, y - T);
      ctx.moveTo(x - L, y - T - r); ctx.lineTo(x - L, y - T + r);
      ctx.stroke();
    };
    plus(2683, 2459, 14, '#000', 3);
    plus(2683, 2507, 14, '#ff0000', 3);
    const dash = (y, col) => {
      ctx.strokeStyle = col; ctx.lineWidth = 6.5;
      ctx.beginPath();
      ctx.moveTo(2610 - L, y - T); ctx.lineTo(2671 - L, y - T);
      ctx.moveTo(2711 - L, y - T); ctx.lineTo(2766 - L, y - T);
      ctx.stroke();
    };
    dash(2554, '#000');
    dash(2602, '#ff0000');
    ctx.restore();
  }
};

new Chart(addCanvas(2060, 2370, 1166, 1050), {
  type: 'scatter',
  data: {
    datasets: [
      {
        data: zipPoints(rocAlarm, rocMiss), clip: false, showLine: false, pointStyle: 'cross',
        pointRadius: ctx => rocSizes[ctx.dataIndex],
        pointBorderColor: ctx => (ctx.dataIndex === 2 ? '#ff0000' : '#000'),
        pointBorderWidth: ctx => (ctx.dataIndex === 2 ? 6 : 3)
      },
      { data: [{ x: 0, y: 1 }, { x: 0.975, y: 0.025 }], showLine: true, pointRadius: 0, borderColor: '#000', borderWidth: 7, borderDash: [65, 38] },
      { data: [{ x: 0.19, y: 1 }, { x: 0.19, y: 0 }], showLine: true, pointRadius: 0, borderColor: '#ff0000', borderWidth: 6, borderDash: [58, 40] }
    ]
  },
  options: {
    layout: { padding: { top: 21.5, right: 31, left: 0, bottom: 0 } },
    plugins: { axisBox: { color: '#333', width: 3, tick: 14 } },
    scales: {
      x: {
        type: 'linear', min: 0, max: 1,
        afterBuildTicks: setTicks(rocTicks), afterFit: fixedAxis(168, 'height'),
        grid: { display: false }, border: { display: false },
        ticks: { color: GRAY, padding: 18, font: { family: SANS, size: 43 }, maxRotation: 0, autoSkip: false, callback: v => String(v) },
        title: { display: true, text: 'Alarming Rate(τ)', color: GRAY, font: { family: SANS, size: 46 }, padding: { bottom: 40, top: 0 } }
      },
      y: {
        min: 0, max: 1,
        afterBuildTicks: setTicks(rocTicks), afterFit: fixedAxis(162, 'width'),
        grid: { display: false }, border: { display: false },
        ticks: { color: GRAY, padding: 7, font: { family: SANS, size: 43 }, autoSkip: false, callback: v => String(v) },
        title: { display: true, text: 'Missing Rate(1- ν)', color: GRAY, font: { family: SANS, size: 45 }, padding: { top: 29, bottom: 0 } }
      }
    }
  },
  plugins: [axisBox, rocLabels]
});

/* ---------- (a) b value map ---------- */

const heatCells = [];
heatRows.forEach((row, r) => {
  row.split('').forEach((ch, c) => {
    if (ch !== '.' && heatLons[c] !== undefined) {
      heatCells.push({ x: heatLons[c], y: heatLats[r], b: parseInt(ch, 36) / 10 });
    }
  });
});

const borderPts = pairs(yunnanBorder);

// clips the cell layer to the province outline
const heatClip = {
  id: 'heatClip',
  beforeDatasetDraw(chart, args) {
    if (!chart.data.datasets[args.index].isHeat) return;
    const { ctx, scales } = chart;
    ctx.save();
    ctx.beginPath();
    borderPts.forEach((p, i) => {
      const x = scales.x.getPixelForValue(p.x), y = scales.y.getPixelForValue(p.y);
      if (i) ctx.lineTo(x, y); else ctx.moveTo(x, y);
    });
    ctx.closePath();
    ctx.clip();
  },
  afterDatasetDraw(chart, args) {
    if (chart.data.datasets[args.index].isHeat) chart.ctx.restore();
  }
};

// GMT style checkered frame
const gmtFrame = {
  id: 'gmtFrame',
  afterDatasetsDraw(chart) {
    const { ctx, chartArea: a, scales } = chart;
    const band = 15;
    const xs = [a.left, ...lonTicks.map(v => scales.x.getPixelForValue(v)), a.right];
    const ys = [a.top, ...[28, 26, 24, 22].map(v => scales.y.getPixelForValue(v)), a.bottom];
    ctx.save();
    ctx.fillStyle = '#fff';
    ctx.fillRect(a.left, a.top, a.right - a.left, band);
    ctx.fillRect(a.left, a.bottom - band, a.right - a.left, band);
    ctx.fillRect(a.left, a.top, band, a.bottom - a.top);
    ctx.fillRect(a.right - band, a.top, band, a.bottom - a.top);
    ctx.fillStyle = '#000';
    for (let i = 0; i < xs.length - 1; i += 2) {
      ctx.fillRect(xs[i], a.top, xs[i + 1] - xs[i], band);
      ctx.fillRect(xs[i], a.bottom - band, xs[i + 1] - xs[i], band);
    }
    for (let i = 0; i < ys.length - 1; i += 2) {
      ctx.fillRect(a.left, ys[i], band, ys[i + 1] - ys[i]);
      ctx.fillRect(a.right - band, ys[i], band, ys[i + 1] - ys[i]);
    }
    ctx.strokeStyle = '#222';
    ctx.lineWidth = 2;
    ctx.strokeRect(a.left, a.top, a.right - a.left, a.bottom - a.top);
    ctx.strokeRect(a.left + band, a.top + band, a.right - a.left - 2 * band, a.bottom - a.top - 2 * band);
    ctx.restore();
  }
};

// symbol keys of the legend right of the map
const mapLegend = {
  id: 'mapLegend',
  afterDatasetsDraw(chart) {
    const { ctx } = chart;
    const L = 440, x = 1922 - L;
    ctx.save();
    const dot = (y, fill) => {
      ctx.beginPath(); ctx.arc(x, y, 14.5, 0, Math.PI * 2);
      ctx.fillStyle = fill; ctx.fill();
      ctx.lineWidth = 2; ctx.strokeStyle = '#333'; ctx.stroke();
    };
    dot(411, '#fff');
    dot(565, '#cccccc');
    dot(718, '#ff2010');
    const s1 = starSprite(15, '#bbbbbb', '#333', 2), s2 = starSprite(15, '#fff', '#ff2020', 2);
    ctx.drawImage(s1, x - s1.width / 2, 488 - s1.height / 2);
    ctx.drawImage(s2, x - s2.width / 2, 643 - s2.height / 2);
    ctx.strokeStyle = '#ff2010'; ctx.lineWidth = 7.5;
    ctx.beginPath();
    ctx.moveTo(1849 - L, 805); ctx.lineTo(1910 - L, 805);
    ctx.moveTo(1945 - L, 805); ctx.lineTo(2010 - L, 805);
    ctx.stroke();
    ctx.restore();
  }
};

const lineSet = (flat, color, width) => ({ data: pairs(flat), showLine: true, pointRadius: 0, borderColor: color, borderWidth: width, tension: 0 });

new Chart(addCanvas(440, 0, 2460, 1210), {
  type: 'scatter',
  data: {
    datasets: [
      starSet(pairs(mainShock), starSprite(44, '#ffffff', '#222', 2)),
      starSet(pairs(yangbiStars), starSprite(38, 'rgba(120,70,70,0.35)', '#ff0000', 4)),
      starSet(pairs(mapRedStars), starSprite(28, '#595959', '#ff0000', 3.5)),
      { data: pairs(mapRedCircles), showLine: false, pointRadius: 14, pointBackgroundColor: '#ff0000', pointBorderColor: '#111', pointBorderWidth: 3.5 },
      lineSet([scaleBarWhite[0], scaleBarLat, scaleBarWhite[1], scaleBarLat], '#fff', 5),
      lineSet([scaleBarWhite[2], scaleBarLat, scaleBarWhite[3], scaleBarLat], '#fff', 5),
      lineSet([scaleBarLon[0], scaleBarLat, scaleBarLon[1], scaleBarLat], '#000', 11),
      ...faultLines.map(f => lineSet(f, '#000', 3.2)),
      { data: pairs(mapDots), showLine: false, pointRadius: 7, pointBackgroundColor: '#595959', pointBorderWidth: 0 },
      lineSet(yunnanBorder, '#2a1a14', 4.2),
      ...outerBorders.map(f => lineSet(f, '#2a1a14', 3.5)),
      { data: heatCells, isHeat: true, showLine: false, pointRadius: 1, pointStyle: c => cellSprite(c.raw.b) }
    ]
  },
  options: {
    layout: { padding: { top: 37, right: 1326, left: 0, bottom: 0 } },
    scales: {
      x: {
        type: 'linear', min: 96.887, max: 106.61,
        afterBuildTicks: setTicks(lonTicks), afterFit: fixedAxis(94, 'height'),
        grid: { color: '#444', lineWidth: 2, drawTicks: false }, border: { display: false },
        ticks: { color: DARK, padding: 14, labelOffset: 12, font: { family: NARROW, size: 46 }, maxRotation: 0, autoSkip: false, callback: v => v + '°' }
      },
      y: {
        min: 20.91, max: 30.18,
        afterBuildTicks: setTicks(latTicks), afterFit: fixedAxis(102.5, 'width'),
        grid: { color: '#444', lineWidth: 2, drawTicks: false }, border: { display: false },
        ticks: { color: DARK, padding: 20, font: { family: NARROW, size: 46 }, autoSkip: false, callback: v => v + '°' }
      }
    }
  },
  plugins: [heatClip, gmtFrame, mapLegend]
});

/* colour bar of the b value */
new Chart(addCanvas(1610, 400, 130, 740), {
  type: 'bar',
  data: {
    labels: ['b'],
    datasets: [{
      data: [[0.5, 2.0]], barPercentage: 1, categoryPercentage: 1,
      backgroundColor: c => {
        const area = c.chart.chartArea;
        if (!area) return '#000';
        const g = c.chart.ctx.createLinearGradient(0, area.bottom, 0, area.top);
        COLOR_STOPS.forEach(([b, col]) => g.addColorStop((b - 0.5) / 1.5, `rgb(${col.join(',')})`));
        return g;
      }
    }]
  },
  options: {
    layout: { padding: { left: 21, right: 0, top: 28, bottom: 38 } },
    plugins: { axisBox: { color: '#000', width: 3.5, tick: 0 } },
    scales: {
      x: { display: false },
      y: {
        position: 'right', min: 0.5, max: 2.0,
        afterBuildTicks: setTicks(barTicks), afterFit: fixedAxis(89, 'width'),
        grid: { drawOnChartArea: false, color: '#000', lineWidth: 3, tickLength: 12 }, border: { display: false },
        ticks: { color: DARK, padding: 12, font: { family: NARROW, size: 46 }, autoSkip: false, callback: v => v.toFixed(1) }
      }
    }
  },
  plugins: [{ id: 'barBox', afterDatasetsDraw: axisBox.beforeDatasetsDraw }]
});

/* ---------- text outside the charts ---------- */

const SERIF = '"Liberation Serif", serif';
addText('(a)', 308, 85, 68, { font: `68px ${SERIF}`, width: 97 });
addText('(b)', 266, 1267, 68, { font: `68px ${SERIF}`, width: 100 });
addText('(c)', 86, 2438, 72, { font: `72px ${SERIF}`, width: 102 });
addText('(d)', 2079, 2430, 74, { font: `74px ${SERIF}`, width: 107 });

addText('M<5.0', 2019, 414, 56, { width: 152 });
addText('M≥5.5 before Jan. 1st, 2020', 2019, 493, 56, { width: 688 });
addText('5.0 ≤M<5.5 before Jan. 1st, 2020', 2019, 571, 56, { width: 808 });
addText('M≥5.5 after Jan. 1st, 2020', 2019, 648, 56, { width: 640 });
addText('5.0 ≤M<5.5 after Jan. 1st, 2020', 2019, 724, 56, { width: 760 });
addText('Jan. 1st, 2020', 2019, 810, 56, { width: 328 });

const bValueLabel = addText('b value', 1766, 740, 44, { font: `44px ${SANS}` });
bValueLabel.style.transformOrigin = 'center center';
bValueLabel.style.left = (1768 - bValueLabel.offsetWidth / 2) + 'px';
bValueLabel.style.transform = 'rotate(-90deg)';

addText('0', 1276, 1015, 44, { font: `44px ${NARROW}`, center: true });
addText('100', 1388, 1015, 44, { font: `44px ${NARROW}`, center: true });
addText('200', 1494, 1015, 44, { font: `44px ${NARROW}`, center: true });
addText('km', 1498, 985, 44, { font: `44px ${NARROW}` });

addText('2020-2024 EQ', 2777, 2459, 46, { width: 286 });
addText('Yangbi EQ', 2777, 2507, 46, { width: 213 });
addText('Random Prediction', 2777, 2554, 46, { width: 400 });
addText('Threshold', 2777, 2602, 46, { width: 206 });
</script>
</body>
</html>
